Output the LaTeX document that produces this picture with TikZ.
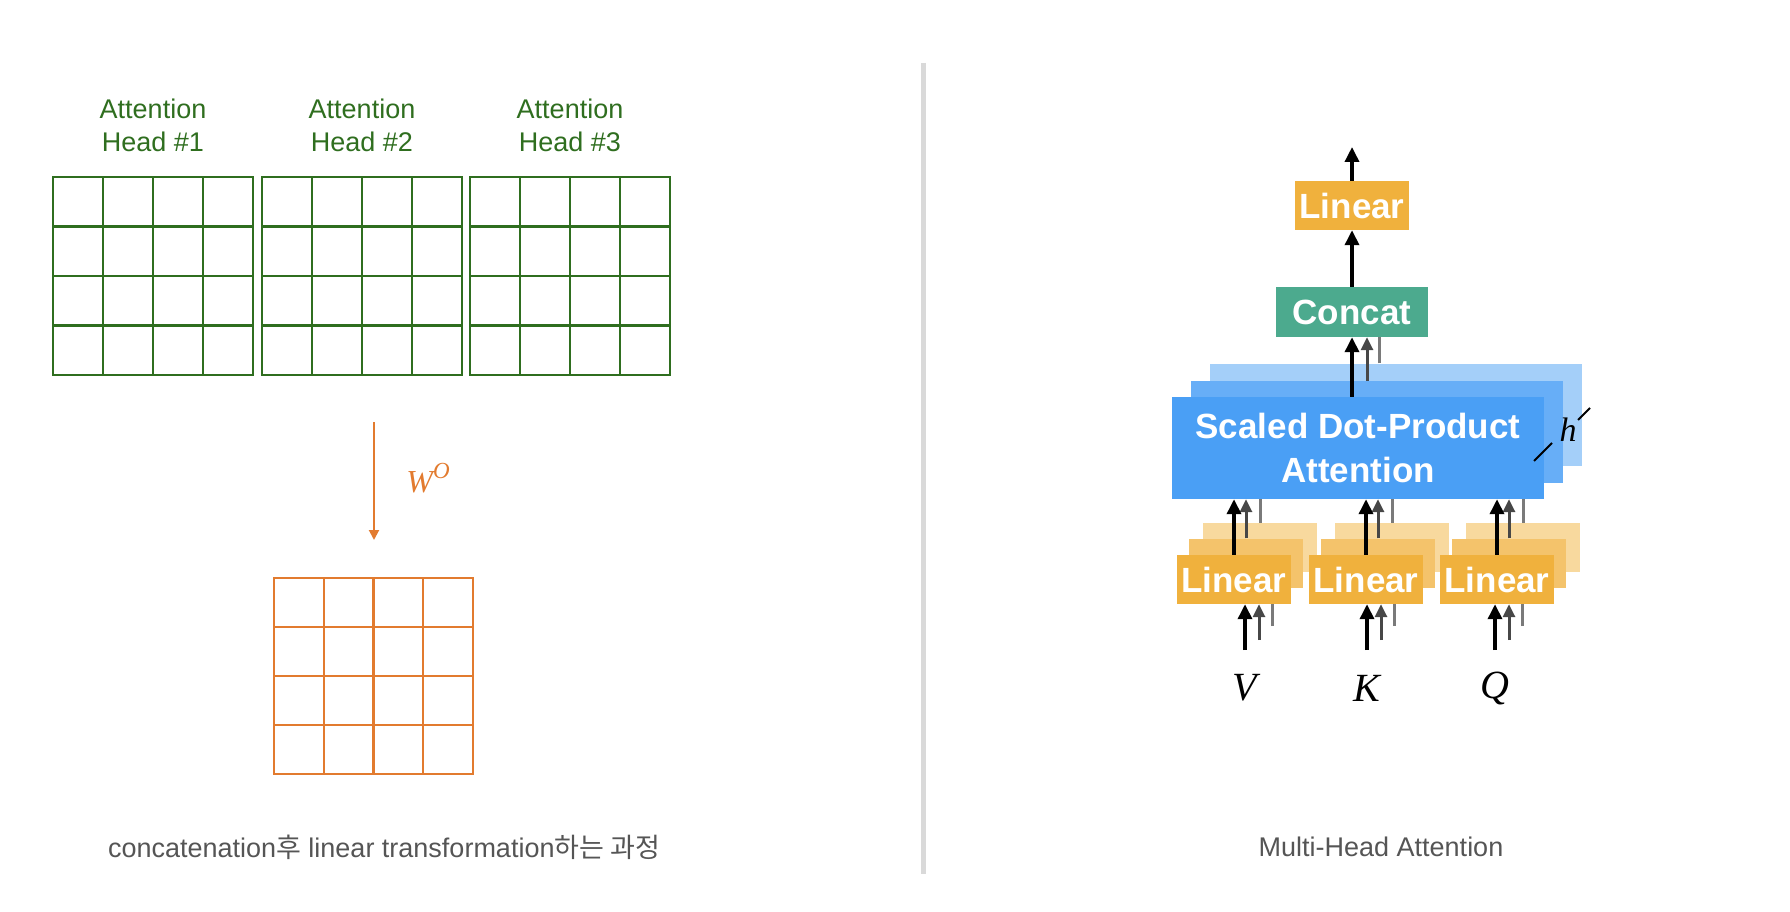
\RequirePackage{fix-cm}
\documentclass[tikz,border=0pt]{standalone}
\usepackage{fontspec}
\newfontfamily\helv{Liberation Sans}
\newfontfamily\tms{Liberation Serif}
\newfontfamily\cjk{Noto Sans CJK KR}
\usepackage{tikz}
\usetikzlibrary{arrows.meta}
\definecolor{headgreen}{HTML}{2F6E1F}
\definecolor{wocolor}{HTML}{E27B2F}
\definecolor{capgray}{HTML}{555555}
\definecolor{divgray}{HTML}{D9D9D9}
\definecolor{linfront}{HTML}{F0B13D}
\definecolor{linmid}{HTML}{F4C36B}
\definecolor{linback}{HTML}{F8D99E}
\definecolor{bluefront}{HTML}{4A9FF5}
\definecolor{bluemid}{HTML}{67AEF7}
\definecolor{blueback}{HTML}{A4CFF9}
\definecolor{concatgreen}{HTML}{4CAA8E}

\begin{document}
\begin{tikzpicture}[x=1pt,y=-1pt,
    box/.style={inner sep=0pt,text=white,font=\helv\bfseries\fontsize{35}{44}\selectfont},
    lin/.style={box,minimum width=114pt,minimum height=49pt},
    sdpa/.style={box,minimum width=372pt,minimum height=102pt,align=center},
    blk/.style={line width=3.5pt,-{Triangle[width=14pt,length=15pt]}},
    dgr/.style={line width=3pt,draw=black!72,-{Triangle[width=12pt,length=13pt]}},
    lgr/.style={line width=3pt,draw=black!52},
    var/.style={font=\tms\itshape\fontsize{40}{40}\selectfont},
    headtext/.style={text=headgreen,align=center,font=\helv\fontsize{27}{33}\selectfont},
    caption/.style={text=capgray,font=\helv\fontsize{27}{32}\selectfont}]
  \useasboundingbox (0,0) rectangle (1790,912);

  % left: three heads, then W^O
  \foreach \gx/\n in {53/1,262/2,470/3} {
    \node[headtext] (head\n) at (\gx+100,125) {Attention\\Head \#\n};
    \foreach \i in {0,...,3}
      \foreach \j in {0,...,3}
        \draw[headgreen,line width=2.2pt] (\gx+50*\i,177+49.5*\j) rectangle +(50,49.5);
  }
  \coordinate (wtop) at (374,422);
  \coordinate (wbot) at (374,540);
  \draw[wocolor,line width=2pt,-{Triangle[width=10pt,length=10pt]}] (wtop) -- (wbot);
  \node[text=wocolor,font=\tms\itshape\fontsize{32}{32}\selectfont] (wo) at (428,478)
    {W\raisebox{0.42em}{\fontsize{23}{23}\selectfont O}};
  \foreach \i in {0,...,3}
    \foreach \j in {0,...,3}
      \draw[wocolor,line width=2.2pt] (274+49.75*\i,578+49*\j) rectangle +(49.75,49);
  \node[caption] (capl) at (384,847) {concatenation{\cjk 후} linear transformation{\cjk 하는 과정}};

  % divider
  \draw[divgray,line width=5pt] (923,63) -- (923,874);

  % right: multi-head attention
  \node[sdpa,fill=blueback] (sdpa3) at (1395.5,414.5) {};
  \node[sdpa,fill=bluemid] (sdpa2) at (1377,432) {};
  \node[sdpa,fill=bluefront] (sdpa1) at (1358,448) {Scaled Dot-Product\\Attention};
  \node[var,font=\tms\itshape\fontsize{34}{34}\selectfont] (hlab) at (1568,430) {h};
  \draw[line width=2pt] (1534,461) -- (1552,443);
  \draw[line width=2pt] (1578,420) -- (1590,408);

  \foreach \n/\cx in {v/1234,k/1366,q/1497}
    \node[lin,fill=linback] (\n3) at (\cx+26,547.5) {};
  \foreach \n/\cx in {v/1234,k/1366,q/1497}
    \node[lin,fill=linmid] (\n2) at (\cx+12,563) {};
  \foreach \n/\cx in {v/1234,k/1366,q/1497}
    \node[lin,fill=linfront] (\n1) at (\cx,579.5) {Linear};

  \foreach \n/\x/\lab in {v/1245/V,k/1367/K,q/1495/Q} {
    \coordinate (\n0) at (\x,650);
    \draw[lgr] (\x+27,626) -- (\x+27,604);
    \draw[dgr] (\x+14,640) -- (\n1.south -| {\x+14,0});
    \draw[blk] (\n0) -- (\n0 |- \n1.south);
    \node[var] (lab\n) at (\x,688) {\lab};
    \draw[lgr] (\n3.north) -- (\n3.north |- sdpa1.south);
    \draw[dgr] (\n2.north) -- (\n2.north |- sdpa1.south);
    \draw[blk] (\n1.north) -- (\n1.north |- sdpa1.south);
  }

  \node[box,fill=concatgreen,minimum width=152pt,minimum height=50pt] (concat) at (1352,312) {Concat};
  \node[lin,fill=linfront] (lintop) at (1352,205.5) {Linear};
  \coordinate (out) at (1352,147);

  \draw[lgr] ([xshift=27pt]concat.south |- sdpa3.north) -- ([xshift=27pt]concat.south);
  \draw[dgr] ([xshift=15pt]concat.south |- sdpa2.north) -- ([xshift=15pt]concat.south);
  \draw[blk] (concat.south |- sdpa1.north) -- (concat.south);
  \draw[blk] (concat.north) -- (lintop.south);
  \draw[blk] (lintop.north) -- (out);
  \node[caption] (capr) at (1381,847) {Multi-Head Attention};
\end{tikzpicture}
\end{document}
